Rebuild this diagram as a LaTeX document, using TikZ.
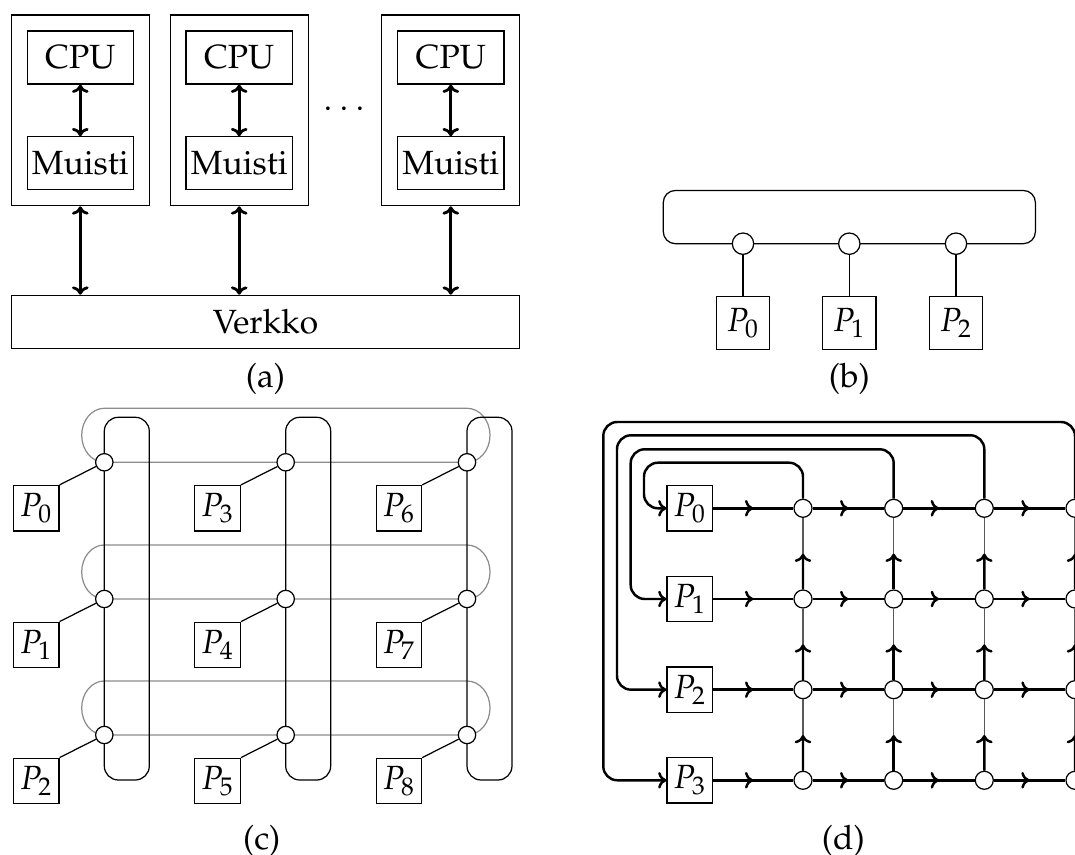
\documentclass[tikz,border=0pt]{standalone}
\usepackage[T1]{fontenc}
\usepackage{mathpazo}
\usetikzlibrary{arrows.meta,decorations.markings,calc}
\begin{document}
\begin{tikzpicture}[x=0.325pt,y=-0.325pt,
  every node/.style={font=\fontsize{10.9pt}{13pt}\selectfont},
  >={To[length=2.7pt,width=5.4pt]},
  host/.style={draw, line width=0.4pt, minimum width=44.85pt, minimum height=62pt, inner sep=0pt},
  cpubox/.style={draw, line width=0.4pt, minimum width=34.55pt, minimum height=17.2pt, inner sep=0pt},
  netbox/.style={draw, line width=0.4pt, minimum width=165.2pt, minimum height=17.2pt, inner sep=0pt},
  pbig/.style={draw, line width=0.4pt, minimum size=17.3pt, inner sep=0pt},
  psmall/.style={draw, line width=0.4pt, minimum size=14.8pt, inner sep=0pt},
  jbig/.style={circle, draw, fill=white, line width=0.4pt, minimum size=6.95pt, inner sep=0pt},
  jsmall/.style={circle, draw, fill=white, line width=0.4pt, minimum size=5.65pt, inner sep=0pt},
  jd/.style={circle, draw, fill=white, line width=0.4pt, minimum size=5.85pt, inner sep=0pt},
  biarrow/.style={line width=0.9pt, <->},
  thickline/.style={line width=0.8pt},
  midarrow/.style={postaction={decorate}, decoration={markings, mark=at position 0.5 with {\arrow{>}}}},
  thinv/.style={line width=0.5pt, black!65},
  ringc/.style={line width=0.4pt, black!45},
  ringv/.style={line width=0.4pt, black, rounded corners=4.55pt},
  caption/.style={inner sep=0pt}
]
\useasboundingbox (0,0) rectangle (1075,855);
\clip (0,0) rectangle (1075,855);

% ---------------- (a) ----------------
\foreach \i/\x in {1/80.3,2/239.2,3/450.8} {
  \node[host] (h\i) at (\x,110.35) {};
  \node[cpubox] (cpu\i) at (\x,57.5) {CPU};
  \node[cpubox] (mem\i) at (\x,163.35) {Muisti};
}
\node[netbox] (net) at (265.5,321.8) {Verkko};
\node (dots) at (344.8,110) {$\cdots$};
\foreach \i in {1,2,3} {
  \draw[biarrow] (cpu\i) -- (mem\i);
  \draw[biarrow] (h\i.south) -- (h\i.south |- net.north);
}
\node[caption] (capa) at (265.5,379) {(a)};

% ---------------- (b) ----------------
\draw[line width=0.4pt, rounded corners=3.9pt] (663.3,190.5) rectangle (1035.4,243.7);
\foreach \i/\x in {0/743,1/849.3,2/956} {
  \node[jbig] (bj\i) at (\x,243.7) {};
  \node[pbig] (bp\i) at (\x,323) {$P_{\i}$};
  \draw[line width=0.4pt] (bj\i) -- (bp\i);
}
\node[caption] (capb) at (849.3,379) {(b)};

% ---------------- (c) ----------------
\foreach \y in {462.3,599,735}
  \draw[ringc] (104.3,\y) -- (467,\y)
     arc[start angle=90, end angle=-90, x radius=23, y radius=27]
     -- (104.3,\y-54)
     arc[start angle=-90, end angle=-270, x radius=22.6, y radius=27] -- cycle;
\foreach \x in {104.3,285.7,467}
  \draw[ringv] (\x,417.3) rectangle (\x+45,780);
\foreach \c/\x in {0/104.3,1/285.7,2/467} {
  \foreach \r/\y in {0/462.3,1/599,2/735} {
    \pgfmathtruncatemacro\nn{3*\c+\r}
    \node[jsmall] (cj\nn) at (\x,\y) {};
    \node[psmall] (cp\nn) at (\x-68.1,\y+46) {$P_{\nn}$};
    \draw[line width=0.4pt] (cp\nn.north east) -- (cj\nn);
  }
}
\node[caption] (capc) at (261.7,841) {(c)};

% ---------------- (d) ----------------
\foreach \r/\y in {0/508.3,1/599,2/689.7,3/780.3} {
  \node[psmall] (dp\r) at (689.85,\y) {$P_{\r}$};
  \foreach \c/\x in {0/803,1/893.7,2/984.3,3/1075}
    \node[jd] (dj\r\c) at (\x,\y) {};
}
\foreach \r in {0,1,2,3} {
  \draw[thickline, midarrow] (dp\r) -- (dj\r0);
  \draw[thickline, midarrow] (dj\r0) -- (dj\r1);
  \draw[thickline, midarrow] (dj\r1) -- (dj\r2);
  \draw[thickline, midarrow] (dj\r2) -- (dj\r3);
}
\foreach \c in {0,1,2,3} {
  \foreach \r/\s in {1/0,2/1,3/2} {
    \draw[thinv] (dj\r\c) -- (dj\s\c);
    \draw[thickline, ->] (dj\r\c.north) -- ($(dj\r\c.north)!0.5!(dj\s\c.south)$);
  }
}
\draw[thickline, ->, rounded corners=4.55pt] (dj00.north) |- (644,462.7) |- (dp0.west);
\draw[thickline, ->, rounded corners=4.55pt] (dj01.north) |- (630.7,449.3) |- (dp1.west);
\draw[thickline, ->, rounded corners=4.55pt] (dj02.north) |- (617,435.3) |- (dp2.west);
\draw[thickline, ->, rounded corners=4.55pt] (dj03.north) |- (603.3,422) |- (dp3.west);
\node[caption] (capd) at (843.3,841) {(d)};
\end{tikzpicture}
\end{document}
